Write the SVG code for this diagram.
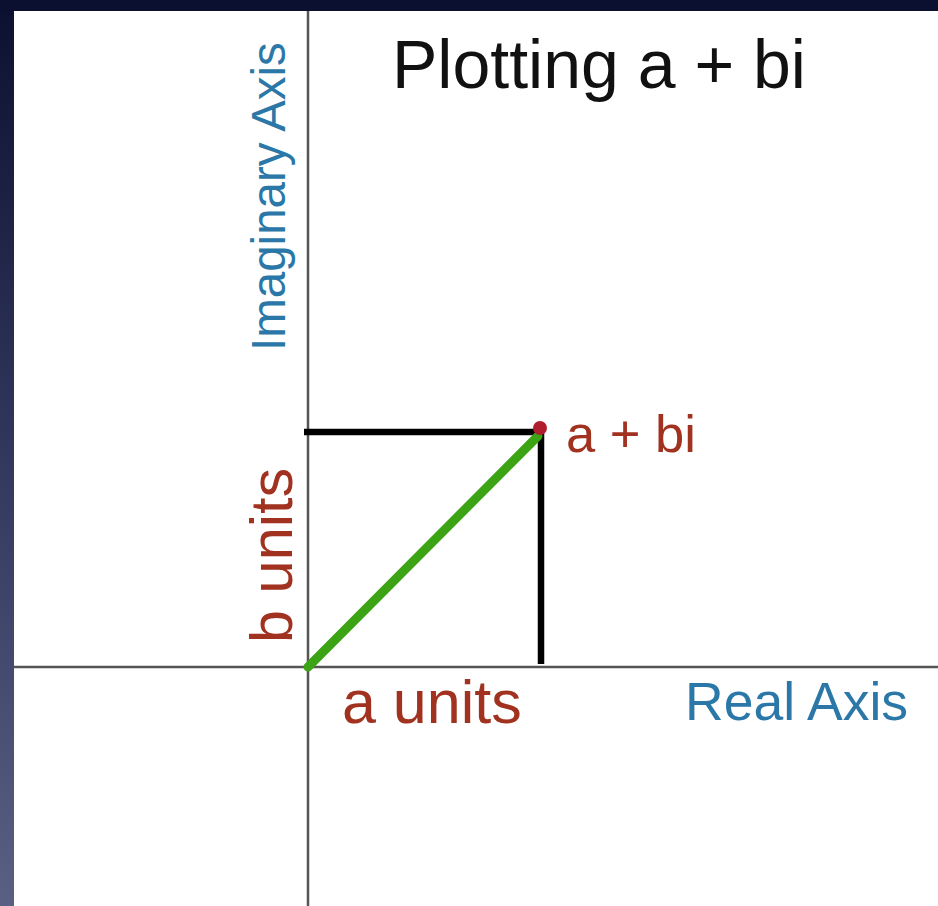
<svg xmlns="http://www.w3.org/2000/svg" width="938" height="906" viewBox="0 0 938 906">
  <defs>
    <linearGradient id="edge" x1="0" y1="0" x2="0" y2="1">
      <stop offset="0" stop-color="#0c1030"/>
      <stop offset="0.45" stop-color="#2e3459"/>
      <stop offset="1" stop-color="#5a6084"/>
    </linearGradient>
    <style>
      .axis { stroke: #555; stroke-width: 2.5; fill: none; }
      .box { stroke: #000; stroke-width: 6.5; fill: none; }
      .t { font-family: "Liberation Sans", Arial, sans-serif; }
      .blue { fill: #2b78a8; }
      .red { fill: #a1321f; }
    </style>
  </defs>
  <rect x="0" y="0" width="938" height="906" fill="url(#edge)"/>
  <rect x="0" y="0" width="938" height="11" fill="#0c1030"/>
  <rect x="14" y="11" width="924" height="895" fill="#ffffff"/>

  <g id="axes">
    <line class="axis" x1="308" y1="11" x2="308" y2="906"/>
    <line class="axis" x1="14" y1="667" x2="938" y2="667"/>
  </g>

  <g id="connectors">
    <line class="box" x1="304" y1="432" x2="541" y2="432"/>
    <line class="box" x1="541" y1="429" x2="541" y2="664"/>
    <line x1="308" y1="667" x2="538" y2="436" stroke="#3ca414" stroke-width="9" stroke-linecap="round"/>
  </g>

  <g id="point">
    <circle cx="540" cy="428" r="7" fill="#b01e2e"/>
    <text class="t red" x="566" y="452" font-size="52.5">a + bi</text>
  </g>

  <g id="title">
    <text class="t" x="392" y="88" font-size="68" fill="#111">Plotting a + bi</text>
  </g>

  <g id="imaginary-axis-label">
    <text class="t blue" transform="translate(285,351) rotate(-90)" font-size="47.5">Imaginary Axis</text>
  </g>

  <g id="real-axis-label">
    <text class="t blue" x="685" y="720" font-size="53.5">Real Axis</text>
  </g>

  <g id="a-units">
    <text class="t red" x="342" y="723" font-size="61">a units</text>
  </g>

  <g id="b-units">
    <text class="t red" transform="translate(292,643) rotate(-90)" font-size="59.5">b units</text>
  </g>
</svg>
